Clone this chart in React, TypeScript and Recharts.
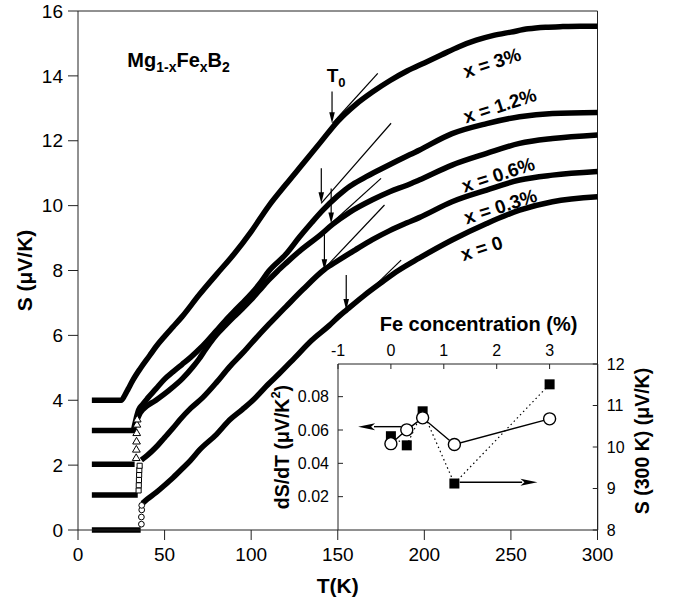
import React from 'react';
import {
  ComposedChart, Line, Scatter, XAxis, YAxis, ZAxis, ReferenceLine, ReferenceDot,
} from 'recharts';

const FONT = '"Liberation Sans", Arial, Helvetica, sans-serif';

// main panel: S(T) for the five Fe contents (curves offset below Tc)
const tA = [8, 25, 27, 29, 31.7, 36, 41.4, 45, 50, 55, 60, 70, 80, 90, 100, 110, 120, 130, 140, 150, 160, 170, 180, 190, 200, 210, 220, 230, 240, 250, 260, 270, 280, 290, 300];
const sA = [4.0, 4.0, 4.15, 4.35, 4.62, 4.98, 5.38, 5.65, 5.97, 6.27, 6.57, 7.25, 7.88, 8.5, 9.2, 9.98, 10.65, 11.3, 11.95, 12.6, 13.1, 13.5, 13.85, 14.15, 14.4, 14.65, 14.9, 15.1, 15.25, 15.35, 15.45, 15.5, 15.52, 15.53, 15.53];

const tB = [8, 31.7, 33, 34, 35, 37, 40, 45, 50, 55, 60, 65, 70, 75, 80, 85, 90, 95, 100, 105, 110, 120, 128, 135, 141.4, 150, 157, 165, 175, 185, 197, 216, 236, 255, 274, 300];
const sB = [3.07, 3.07, 3.3, 3.52, 3.7, 3.85, 4.05, 4.35, 4.65, 4.88, 5.1, 5.32, 5.57, 5.85, 6.15, 6.45, 6.73, 7.0, 7.28, 7.6, 7.97, 8.5, 9.04, 9.48, 9.86, 10.3, 10.6, 10.85, 11.13, 11.4, 11.71, 12.22, 12.53, 12.74, 12.84, 12.87];

const tC = [8, 32.7, 33.5, 34.5, 36, 37.5, 45, 52.9, 60, 66.4, 70, 73, 77, 80, 85, 90, 95, 100, 105, 110, 115, 120, 128, 140, 147, 157, 170, 180, 190, 197, 216, 236, 255, 274, 300];
const sC = [2.03, 2.03, null, 3.45, 3.62, 3.72, 4.0, 4.32, 4.65, 5.03, 5.28, 5.52, 5.82, 6.02, 6.3, 6.57, 6.83, 7.1, 7.4, 7.7, 7.97, 8.22, 8.6, 9.1, 9.42, 9.8, 10.18, 10.43, 10.63, 10.79, 11.25, 11.61, 11.92, 12.07, 12.18];

const tD = [8, 34.5, 35, 36.6, 40, 45, 50, 55, 58.7, 65, 72, 80, 87.5, 95, 100, 110, 114.5, 120, 130, 142.3, 150, 160, 170, 180, 190, 197, 216, 236, 255, 274, 300];
const sD = [1.08, 1.08, null, 2.16, 2.3, 2.55, 2.85, 3.15, 3.39, 3.75, 4.08, 4.55, 5.03, 5.45, 5.75, 6.33, 6.58, 6.88, 7.42, 8.03, 8.3, 8.63, 8.95, 9.23, 9.47, 9.63, 10.12, 10.48, 10.79, 10.94, 11.05];

const tE = [8, 36.2, 36.6, 37.2, 40, 45, 50, 55, 60, 65, 70.2, 80, 87.5, 95, 101, 110, 116.4, 125, 135, 145, 151, 155, 165, 175, 185, 197, 216, 236, 255, 274, 300];
const sE = [0, 0, null, 0.82, 0.95, 1.15, 1.38, 1.62, 1.88, 2.15, 2.47, 2.95, 3.39, 3.72, 4.0, 4.5, 4.83, 5.3, 5.85, 6.3, 6.6, 6.78, 7.22, 7.62, 8.0, 8.38, 8.94, 9.45, 9.86, 10.12, 10.27];

// sparse points across the superconducting transitions
const triT = [33.6, 33.7, 33.8, 33.9, 34.0, 34.2];
const triS = [2.21, 2.47, 2.72, 2.98, 3.24, 3.4];
const sqT = [35.0, 35.1, 35.2, 35.3, 35.4, 35.6];
const sqS = [1.22, 1.38, 1.54, 1.7, 1.85, 1.98];
const circT = [36.6, 36.6, 36.8, 36.8];
const circS = [0.18, 0.4, 0.62, 0.76];

const tempTicks = [0, 50, 100, 150, 200, 250, 300];
const sTicks = [0, 2, 4, 6, 8, 10, 12, 14, 16];

// T0 marks: [T, arrow top, arrow tip] and tangents [T1, S1, T2, S2]
const t0Arrows = [[146.7, 13.52, 12.54], [140.5, 11.15, 10.07], [146.2, 10.53, 9.45], [142.3, 9.15, 8.01], [154.9, 7.86, 6.78]];
const tangents = [[147, 12.54, 173.1, 14.08], [140.4, 10.07, 180.8, 12.54], [146.2, 9.45, 175, 10.84], [141.4, 8.01, 177, 10.02], [156.8, 6.78, 186.6, 8.32]];

const curveLabels = [
  { text: 'x = 3%', T: 239.1, S: 14.4 },
  { text: 'x = 1.2%', T: 243.7, S: 13.08 },
  { text: 'x = 0.6%', T: 242.7, S: 10.95 },
  { text: 'x = 0.3%', T: 244, S: 9.97 },
  { text: 'x = 0', T: 233.1, S: 8.68 },
];

// inset
const feConc = [0, 0.3, 0.6, 1.2, 3];
const dsdt = [0.0518, 0.0601, 0.0673, 0.0513, 0.0667];
const s300 = [10.26, 10.04, 10.86, 9.12, 11.51];
const feTicks = [-1, 0, 1, 2, 3];
const dsdtTicks = [0.02, 0.04, 0.06, 0.08];
const s300Ticks = [8, 9, 10, 11, 12];

const rows = (t: number[], s: (number | null)[]) => t.map((T, i) => ({ T, S: s[i] }));
const curves = [
  { name: 'x=0', data: rows(tE, sE) },
  { name: 'x=0.3%', data: rows(tD, sD) },
  { name: 'x=0.6%', data: rows(tC, sC) },
  { name: 'x=1.2%', data: rows(tB, sB) },
  { name: 'x=3%', data: rows(tA, sA) },
];
const insetRows = feConc.map((fe, i) => ({ fe, dsdt: dsdt[i], s300: s300[i] }));

const tickStyle = { fill: '#000', fontSize: 19, fontFamily: FONT };
const insetTick = { fill: '#000', fontSize: 16, fontFamily: FONT };

const axisTitle = (vb: any, content: React.ReactNode, dx: number, dy: number, rot: number, size: number) => {
  const cx = vb.x + vb.width / 2 + dx;
  const cy = vb.y + vb.height / 2 + dy;
  return (
    <text x={cx} y={cy} transform={`rotate(${rot} ${cx} ${cy})`} textAnchor="middle" dominantBaseline="central"
      fontFamily={FONT} fontWeight="bold" fontSize={size} fill="#000">{content}</text>
  );
};

const downHead = (p: any) => (
  <polygon points={`${p.cx},${p.cy} ${p.cx - 2.8},${p.cy - 11} ${p.cx + 2.8},${p.cy - 11}`} fill="#000" />
);
const sideHead = (dir: number) => (p: any) => (
  <polygon points={`${p.cx},${p.cy} ${p.cx - dir * 17},${p.cy - 3.5} ${p.cx - dir * 13},${p.cy} ${p.cx - dir * 17},${p.cy + 3.5}`} fill="#000" />
);
const squareDot = (p: any) => (
  <rect key={`sq-${p.index}`} x={p.cx - 5} y={p.cy - 5} width={10} height={10} fill="#000" />
);

export default function App() {
  return (
    <div style={{ position: 'absolute', left: 0, top: 0, width: 673, height: 599, background: '#fff' }}>
      <ComposedChart width={673} height={599} margin={{ top: 11, right: 75.5, bottom: 39, left: 38 }}>
        <XAxis type="number" dataKey="T" domain={[0, 300]} ticks={tempTicks} interval={0} height={30}
          tickSize={10} tickMargin={8} stroke="#222" tick={tickStyle}
          label={(p: any) => axisTitle(p.viewBox, 'T(K)', 0, 40, 0, 21)} />
        <YAxis type="number" domain={[0, 16]} ticks={sTicks} interval={0} width={40}
          tickSize={10} tickMargin={5} stroke="#222" tick={tickStyle}
          label={(p: any) => axisTitle(p.viewBox, 'S (μV/K)', -34, 0, -90, 21)} />
        <ZAxis range={[26, 26]} />
        <ReferenceLine y={16} stroke="#222" />
        <ReferenceLine x={300} stroke="#222" />
        {curves.map((c) => (
          <Line key={c.name} name={c.name} data={c.data} dataKey="S" type="monotone" stroke="#000"
            strokeWidth={5.5} dot={false} isAnimationActive={false} />
        ))}
        <Scatter data={rows(triT, triS)} dataKey="S" shape="triangle" fill="#fff" stroke="#000" strokeWidth={1} isAnimationActive={false} />
        <Scatter data={rows(sqT, sqS)} dataKey="S" shape="square" fill="#fff" stroke="#000" strokeWidth={1} isAnimationActive={false} />
        <Scatter data={rows(circT, circS)} dataKey="S" shape="circle" fill="#fff" stroke="#000" strokeWidth={1} isAnimationActive={false} />
        {tangents.map((t, i) => (
          <ReferenceLine key={`tg${i}`} segment={[{ x: t[0], y: t[1] }, { x: t[2], y: t[3] }]} stroke="#000" strokeWidth={1.2} />
        ))}
        {t0Arrows.map((a, i) => (
          <ReferenceLine key={`ar${i}`} segment={[{ x: a[0], y: a[1] }, { x: a[0], y: a[2] + 0.2 }]} stroke="#000" strokeWidth={1.2} />
        ))}
        {t0Arrows.map((a, i) => (
          <ReferenceDot key={`ah${i}`} x={a[0]} y={a[2]} r={0} shape={downHead} />
        ))}
        <ReferenceDot x={28.5} y={14.28} r={0} shape={(p: any) => (
          <text x={p.cx} y={p.cy} fontFamily={FONT} fontWeight="bold" fontSize={20} fill="#000">
            Mg<tspan fontSize={14} dy={5}>1-x</tspan><tspan dy={-5}>Fe</tspan><tspan fontSize={14} dy={5}>x</tspan><tspan dy={-5}>B</tspan><tspan fontSize={14} dy={5}>2</tspan>
          </text>
        )} />
        <ReferenceDot x={143.6} y={13.81} r={0} shape={(p: any) => (
          <text x={p.cx} y={p.cy} fontFamily={FONT} fontWeight="bold" fontSize={19} fill="#000">
            T<tspan fontSize={13} dy={5}>0</tspan>
          </text>
        )} />
        {curveLabels.map((l) => (
          <ReferenceDot key={l.text} x={l.T} y={l.S} r={0} shape={(p: any) => (
            <text x={p.cx} y={p.cy} transform={`rotate(-18 ${p.cx} ${p.cy})`} textAnchor="middle" dominantBaseline="central"
              fontFamily={FONT} fontWeight="bold" fontSize={19} fill="#000">{l.text}</text>
          )} />
        ))}
      </ComposedChart>

      <div style={{ position: 'absolute', left: 257.75, top: 314 }}>
        <ComposedChart width={414.75} height={228} data={insetRows} margin={{ top: 0, right: 0, bottom: 12, left: 0 }}>
          <XAxis xAxisId="fe" orientation="top" type="number" dataKey="fe" domain={[-1, 3.91]} ticks={feTicks}
            interval={0} height={50} tickSize={-5} tickMargin={13} stroke="#222" tick={insetTick}
            label={(p: any) => axisTitle(p.viewBox, 'Fe concentration (%)', 10.7, -15.5, 0, 20)} />
          <YAxis yAxisId="l" orientation="left" type="number" domain={[0, 0.0996]} ticks={dsdtTicks} interval={0}
            width={80} tickSize={-5} tickMargin={14} stroke="#222" tick={insetTick}
            tickFormatter={(v: number) => v.toFixed(2)}
            label={(p: any) => axisTitle(p.viewBox, <>dS/dT (μV/K<tspan dy={-7} fontSize={13}>2</tspan><tspan dy={7}>)</tspan></>, -16.25, 0, -90, 19.5)} />
          <YAxis yAxisId="r" orientation="right" type="number" domain={[8, 12]} ticks={s300Ticks} interval={0}
            width={75} tickSize={-5} tickMargin={14} stroke="#222" tick={insetTick}
            label={(p: any) => axisTitle(p.viewBox, 'S (300 K) (μV/K)', 6.7, -6, -90, 19.5)} />
          <Line xAxisId="fe" yAxisId="r" dataKey="s300" type="linear" stroke="#000" strokeWidth={1.2}
            strokeDasharray="1.5 3" dot={squareDot} isAnimationActive={false} />
          <Line xAxisId="fe" yAxisId="l" dataKey="dsdt" type="linear" stroke="#000" strokeWidth={1.4}
            dot={{ r: 6, fill: '#fff', stroke: '#000', strokeWidth: 1.4 }} isAnimationActive={false} />
          <ReferenceLine xAxisId="fe" yAxisId="l" segment={[{ x: -0.32, y: 0.062 }, { x: 0.19, y: 0.062 }]} stroke="#000" strokeWidth={1.4} />
          <ReferenceDot xAxisId="fe" yAxisId="l" x={-0.62} y={0.062} r={0} shape={sideHead(-1)} />
          <ReferenceLine xAxisId="fe" yAxisId="r" segment={[{ x: 1.3, y: 9.15 }, { x: 2.48, y: 9.15 }]} stroke="#000" strokeWidth={1.4} />
          <ReferenceDot xAxisId="fe" yAxisId="r" x={2.77} y={9.15} r={0} shape={sideHead(1)} />
        </ComposedChart>
      </div>
    </div>
  );
}
